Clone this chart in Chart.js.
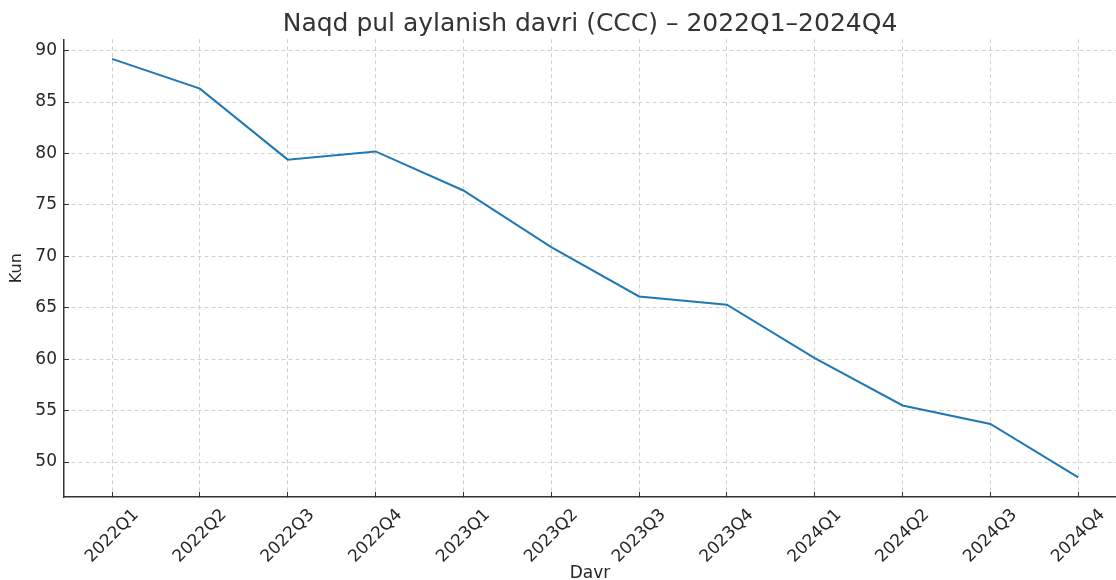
<!DOCTYPE html>
<html>
<head>
<meta charset="utf-8">
<script src="https://cdn.jsdelivr.net/npm/chart.js@4.4.0/dist/chart.umd.min.js"></script>
<style>
  html, body { margin: 0; padding: 0; background: #fff; }
  #wrap { width: 1116px; height: 580px; }
</style>
</head>
<body>
<div id="wrap"><canvas id="cccChart" width="1116" height="580"></canvas></div>
<script>
// quarters and cash conversion cycle (days)
const periods = ["2022Q1", "2022Q2", "2022Q3", "2022Q4", "2023Q1", "2023Q2",
                 "2023Q3", "2023Q4", "2024Q1", "2024Q2", "2024Q3", "2024Q4"];
const cccDays = [89.2, 86.3, 79.4, 80.2, 76.4, 70.9, 66.1, 65.3, 60.1, 55.5, 53.7, 48.5];
const yTicks = [50, 55, 60, 65, 70, 75, 80, 85, 90];

const font = "'DejaVu Sans', sans-serif";
const textColor = "#262626";

// matplotlib-like look: ticks point inwards (negative tick length)
const gridOpts = {
    color: "#d0d0d0",
    lineWidth: 1,
    drawTicks: true,
    tickLength: -5,
    tickColor: "#333",
    tickWidth: 1
};

function renderChart() {
    const ctx = document.getElementById("cccChart").getContext("2d");
    new Chart(ctx, {
        type: "line",
        data: {
            datasets: [{
                label: "CCC",
                data: cccDays.map((v, i) => ({ x: i, y: v })),
                borderColor: "#1f77b4",
                borderWidth: 2,
                pointRadius: 0,
                tension: 0,
                fill: false
            }]
        },
        options: {
            responsive: false,
            animation: false,
            layout: { padding: 0 },
            plugins: {
                legend: { display: false },
                tooltip: { enabled: false },
                title: {
                    display: true,
                    text: "Naqd pul aylanish davri (CCC) – 2022Q1–2024Q4",
                    color: "#333",
                    fullSize: false,
                    font: { family: font, size: 25, weight: "normal" },
                    padding: { top: 9, bottom: 0.3 }
                }
            },
            scales: {
                x: {
                    type: "linear",
                    min: -0.547,
                    max: 11.43,
                    afterBuildTicks: s => { s.ticks = periods.map((_, i) => ({ value: i })); },
                    afterFit: s => { s.height = 83; },
                    ticks: {
                        autoSkip: false,
                        minRotation: 45,
                        maxRotation: 45,
                        padding: 13,
                        labelOffset: 24,
                        color: textColor,
                        font: { family: font, size: 17 },
                        callback: v => periods[v]
                    },
                    grid: gridOpts,
                    border: { display: true, color: "#333", width: 1.5, dash: [4, 3] },
                    title: {
                        display: true,
                        text: "Davr",
                        color: textColor,
                        font: { family: font, size: 17 },
                        padding: { top: 0, bottom: -4 }
                    }
                },
                y: {
                    min: 46.6,
                    max: 91.1,
                    afterBuildTicks: s => { s.ticks = yTicks.map(v => ({ value: v })); },
                    afterFit: s => { s.width = 64; },
                    ticks: {
                        padding: 12,
                        color: textColor,
                        font: { family: font, size: 17 }
                    },
                    grid: gridOpts,
                    border: { display: true, color: "#333", width: 1.5, dash: [4, 3] },
                    title: {
                        display: true,
                        text: "Kun",
                        color: textColor,
                        font: { family: font, size: 16 },
                        padding: { top: 7, bottom: 0 }
                    }
                }
            }
        }
    });
}

renderChart();
</script>
</body>
</html>
